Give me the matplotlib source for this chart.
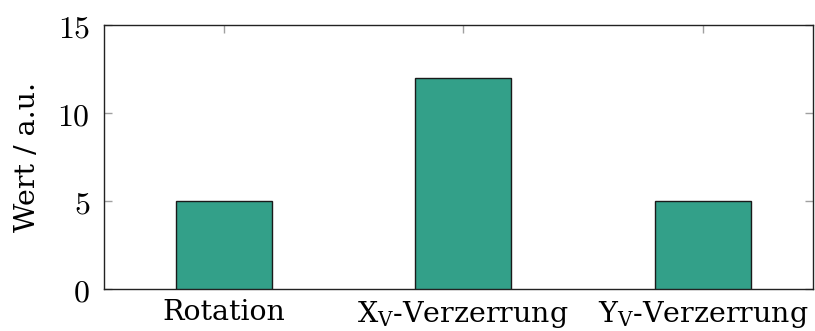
import matplotlib.pyplot as plt

categories = ["Rotation", "X$_\\mathrm{V}$-Verzerrung", "Y$_\\mathrm{V}$-Verzerrung"]
values = [5, 12, 5]
yticks = [0, 5, 10, 15]

plt.rcParams['font.family'] = 'DejaVu Serif'
plt.rcParams['mathtext.fontset'] = 'dejavuserif'

fig = plt.figure(figsize=(8.15, 3.31), dpi=100)
ax = fig.add_axes([104 / 815, 1 - 289 / 331, 709 / 815, 264 / 331])

x = range(len(categories))
ax.bar(x, values, width=0.4, color='#33a089', edgecolor='#1a1a1a', linewidth=1.0, zorder=3)

ax.set_xlim(-0.5, 2.46)
ax.set_ylim(0, 15)
ax.set_xticks(list(x))
ax.set_xticklabels(categories, fontsize=20.5)
ax.set_yticks(yticks)
ax.set_yticklabels([f"${v}$" for v in yticks], fontsize=23, math_fontfamily='cm')
ax.set_ylabel("Wert / a.u.", fontsize=20.5, labelpad=12)

ax.tick_params(axis='both', direction='in', color='#a0a0a0', length=6, width=1)
ax.tick_params(axis='y', right=True, pad=10)
ax.tick_params(axis='x', top=True, pad=7, bottom=False)
for s in ax.spines.values():
    s.set_linewidth(1.0)
    s.set_color('#222222')

fig.savefig("out.png", dpi=100)
